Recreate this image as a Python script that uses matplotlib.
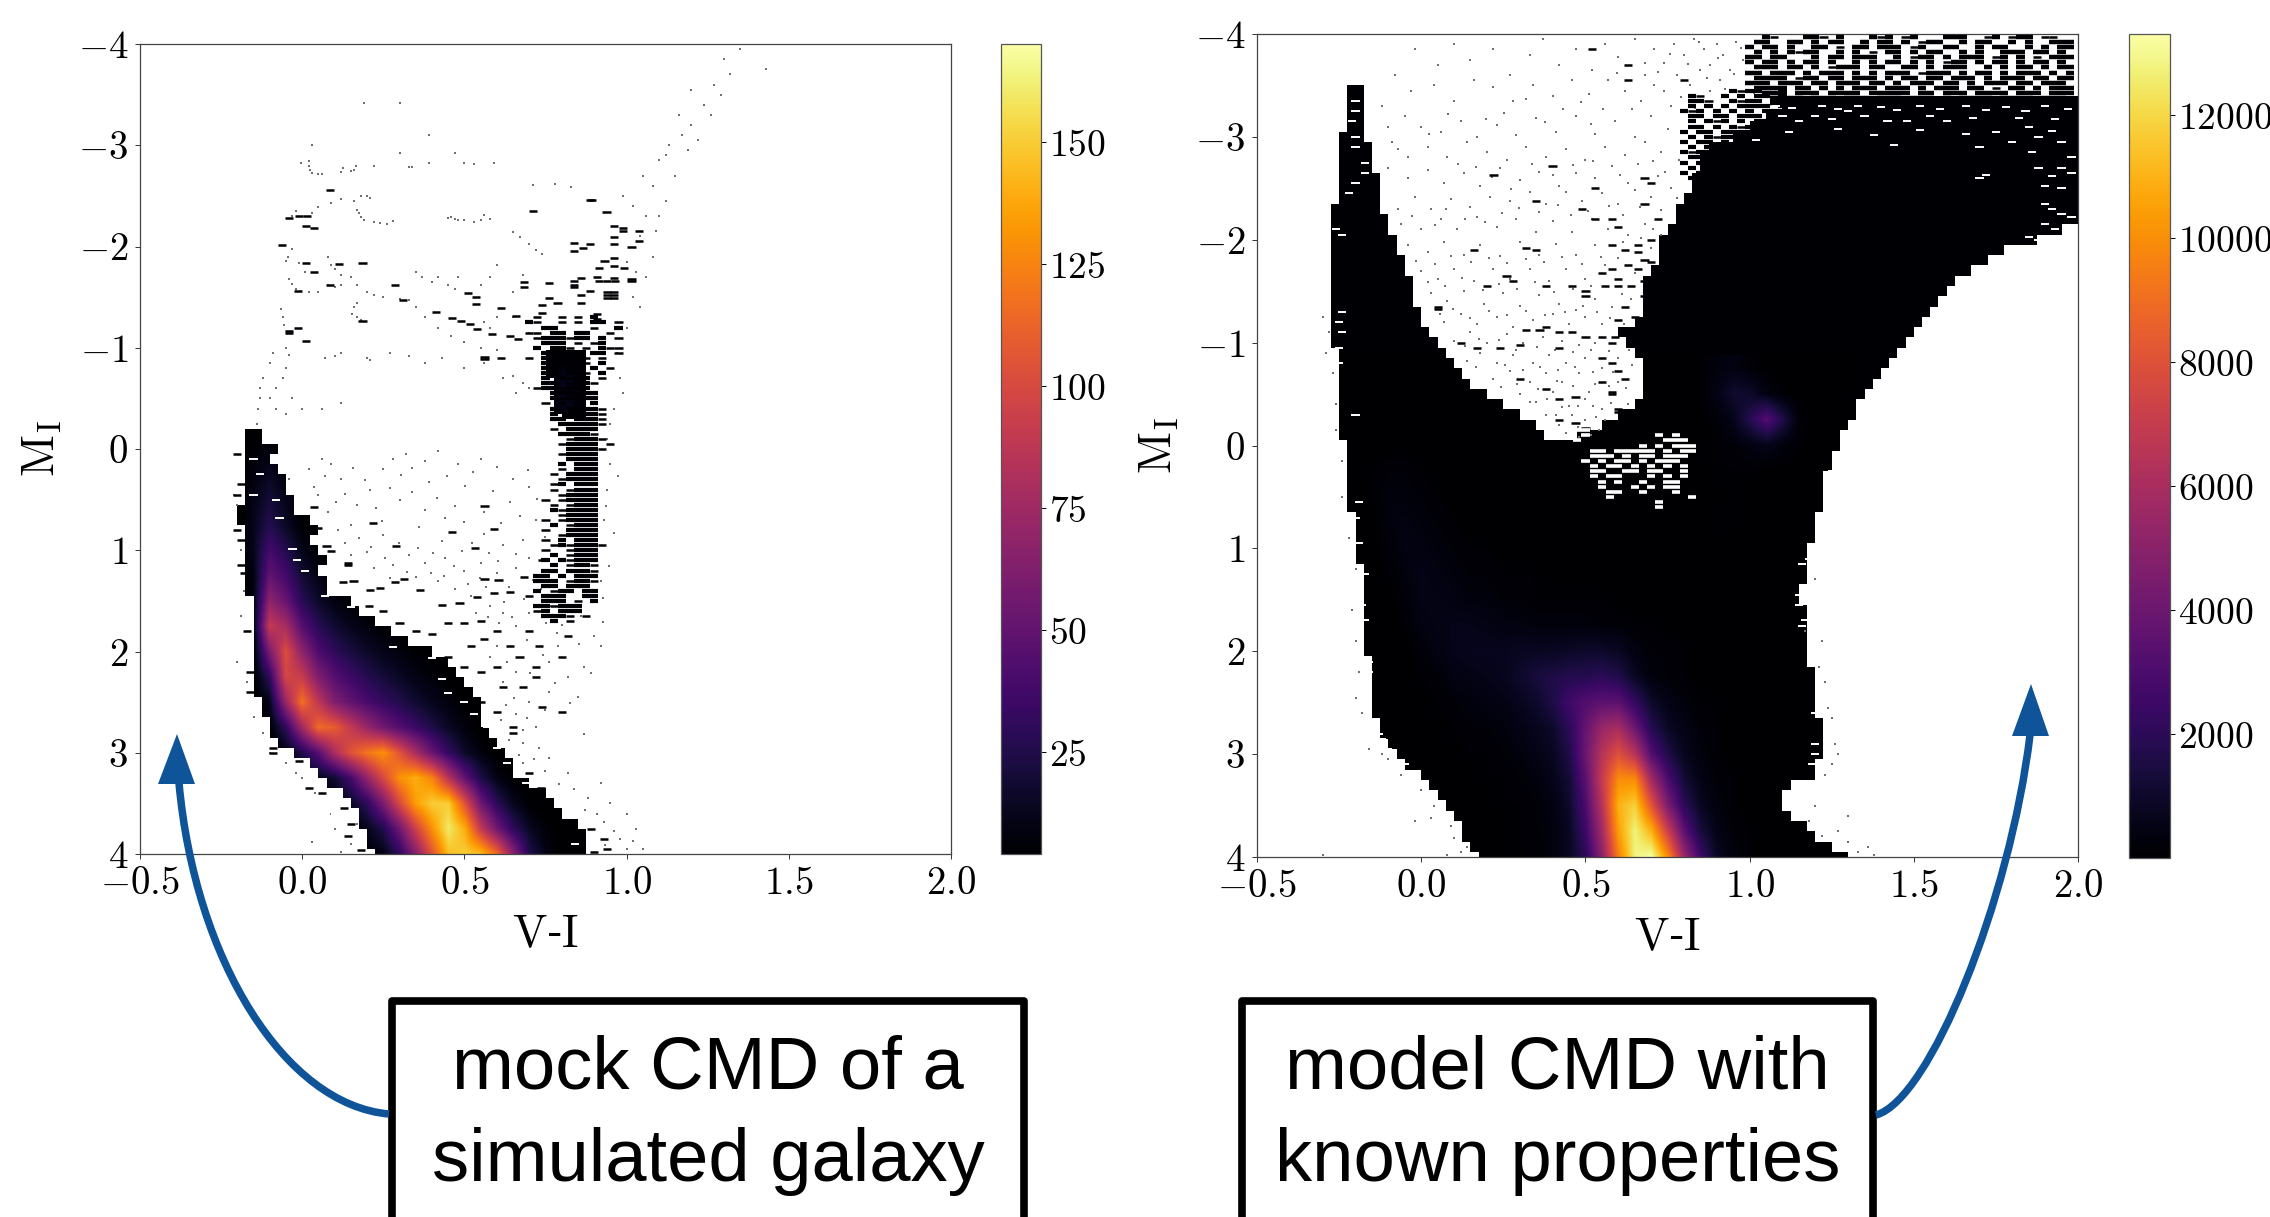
import numpy as np
import matplotlib
matplotlib.use('Agg')
import matplotlib.pyplot as plt
from matplotlib.path import Path
from matplotlib.patches import PathPatch, Polygon, Rectangle

W, H = 2270, 1217
BLACK = '#000004'
BLUE = '#0f5499'

plt.rcParams['mathtext.fontset'] = 'cm'
plt.rcParams['font.family'] = ['Liberation Sans', 'DejaVu Sans']

x_ticks = [-0.5, 0.0, 0.5, 1.0, 1.5, 2.0]
x_labels = ['$-0.5$', '$0.0$', '$0.5$', '$1.0$', '$1.5$', '$2.0$']
y_ticks = [-4, -3, -2, -1, 0, 1, 2, 3, 4]
y_labels = ['$-4$', '$-3$', '$-2$', '$-1$', '$0$', '$1$', '$2$', '$3$', '$4$']
mock_cbar_ticks = [25, 50, 75, 100, 125, 150]
model_cbar_ticks = [2000, 4000, 6000, 8000, 10000, 12000]

# ---- mock CMD ----
mock_band_m = [-0.2, -0.1, 0.0, 0.1, 0.2, 0.3, 0.4, 0.5, 0.6, 0.7, 0.8, 0.9, 1.0, 1.1, 1.2, 1.3, 1.4, 1.5, 1.6, 1.7, 1.8, 1.9, 2.0, 2.1, 2.2, 2.3, 2.4, 2.5, 2.6, 2.7, 2.8, 2.9, 3.0, 3.1, 3.2, 3.3, 3.4, 3.5, 3.6, 3.7, 3.8, 3.9, 4.0]
mock_band_l = [-0.174, -0.174, -0.174, -0.174, -0.174, -0.174, -0.174, -0.174, -0.201, -0.201, -0.174, -0.174, -0.174, -0.174, -0.174, -0.174, -0.174, -0.152, -0.152, -0.152, -0.152, -0.152, -0.149, -0.149, -0.149, -0.149, -0.146, -0.124, -0.124, -0.102, -0.096, -0.069, -0.024, 0.025, 0.048, 0.075, 0.119, 0.153, 0.175, 0.18, 0.197, 0.202, 0.23]
mock_band_r = [-0.118, -0.113, -0.08, -0.102, -0.074, -0.058, -0.046, -0.027, -0.024, 0.025, 0.042, 0.025, 0.048, 0.075, 0.053, 0.075, 0.075, 0.142, 0.169, 0.23, 0.274, 0.33, 0.396, 0.451, 0.473, 0.496, 0.518, 0.551, 0.551, 0.556, 0.573, 0.601, 0.623, 0.65, 0.656, 0.7, 0.739, 0.772, 0.8, 0.838, 0.872, 0.877, 0.883]
mock_core_m = [-0.98, -0.8, -0.6, -0.4, -0.3]
mock_core_l = [0.76, 0.76, 0.775, 0.78, 0.79]
mock_core_r = [0.875, 0.875, 0.875, 0.87, 0.87]

mock_col = [-0.2, -0.15, -0.1, -0.05, 0, 0.05, 0.1, 0.15, 0.2, 0.25, 0.3, 0.35, 0.4, 0.45, 0.5, 0.55, 0.6, 0.65, 0.7, 0.75, 0.8, 0.85, 0.9]
mock_row = [-1, -0.75, -0.5, -0.25, 0, 0.25, 0.5, 0.75, 1, 1.25, 1.5, 1.75, 2, 2.25, 2.5, 2.75, 3, 3.25, 3.5, 3.75, 4]
mock_counts = [
    [0, 0, 0, 0, 0, 0, 0, 0, 0, 0, 0, 0, 0, 0, 0, 0, 0, 0, 0, 0, 0, 0, 0],
    [0, 0, 0, 0, 0, 0, 0, 0, 0, 0, 0, 0, 0, 0, 0, 0, 0, 0, 0, 2, 10, 10, 0],
    [0, 0, 0, 0, 0, 0, 0, 0, 0, 0, 0, 0, 0, 0, 0, 0, 0, 0, 0, 3, 13, 10, 0],
    [0, 2, 3, 0, 0, 0, 0, 0, 0, 0, 0, 0, 0, 0, 0, 0, 0, 0, 0, 0, 3, 3, 0],
    [0, 5, 8, 3, 0, 0, 0, 0, 0, 0, 0, 0, 0, 0, 0, 0, 0, 0, 0, 0, 0, 0, 0],
    [0, 8, 14, 6, 2, 0, 0, 0, 0, 0, 0, 0, 0, 0, 0, 0, 0, 0, 0, 0, 0, 0, 0],
    [0, 10, 20, 12, 3, 0, 0, 0, 0, 0, 0, 0, 0, 0, 0, 0, 0, 0, 0, 0, 0, 0, 0],
    [0, 12, 26, 15, 5, 2, 0, 0, 0, 0, 0, 0, 0, 0, 0, 0, 0, 0, 0, 0, 0, 0, 0],
    [0, 12, 38, 26, 11, 5, 1, 0, 0, 0, 0, 0, 0, 0, 0, 0, 0, 0, 0, 0, 0, 0, 0],
    [0, 9, 50, 38, 19, 10, 4, 1, 0, 0, 0, 0, 0, 0, 0, 0, 0, 0, 0, 0, 0, 0, 0],
    [0, 7, 68, 52, 28, 16, 9, 5, 3, 2, 1, 0, 0, 0, 0, 0, 0, 0, 0, 0, 0, 0, 0],
    [0, 5, 90, 78, 45, 28, 18, 12, 8, 5, 3, 2, 1, 0, 0, 0, 0, 0, 0, 0, 0, 0, 0],
    [0, 3, 60, 102, 68, 42, 30, 22, 16, 11, 8, 5, 3, 2, 1, 0, 0, 0, 0, 0, 0, 0, 0],
    [0, 2, 30, 98, 92, 62, 45, 35, 27, 20, 15, 10, 7, 4, 2, 1, 0, 0, 0, 0, 0, 0, 0],
    [0, 1, 12, 72, 118, 88, 62, 50, 40, 32, 25, 18, 12, 8, 4, 2, 0, 0, 0, 0, 0, 0, 0],
    [0, 0, 4, 30, 75, 115, 110, 90, 72, 56, 44, 34, 24, 15, 8, 3, 1, 0, 0, 0, 0, 0, 0],
    [0, 0, 1, 8, 25, 45, 80, 105, 120, 130, 105, 78, 52, 32, 16, 8, 3, 1, 0, 0, 0, 0, 0],
    [0, 0, 0, 1, 6, 12, 18, 38, 70, 100, 130, 140, 125, 85, 50, 24, 10, 4, 1, 0, 0, 0, 0],
    [0, 0, 0, 0, 1, 3, 6, 14, 30, 60, 100, 135, 150, 150, 105, 55, 28, 12, 5, 2, 0, 0, 0],
    [0, 0, 0, 0, 0, 1, 3, 6, 12, 25, 55, 95, 130, 160, 140, 90, 55, 30, 14, 6, 2, 0, 0],
    [0, 0, 0, 0, 0, 0, 1, 3, 5, 10, 30, 65, 105, 145, 150, 145, 115, 65, 25, 10, 3, 1, 0],
]

# cell art of the red giant branch: cols from V-I 0.70 by 0.025, rows from M_I -1.30 by 0.05
mock_rgb_cells = [
    '.-..-.-.#...', '#-..-.-.##.-', '..##....-..#', '--.##.##..-.', '.-###-##.#.-', '..###.-.-#..',
    '.#.##-.-.#--', '..####..##.-', '-.##.#.-.-..', '..###-.-.#..', '..##.##.#.-.', '..##.##-.#..',
    '..#.#-##.-..', '..##.-##-...', '.-##-###....', '...###-##...', '...#-####...', '..-.#.#.#...',
    '...#.####-..', '...#.#-##-..', '...##.###-..', '....#####-..', '...-.####...', '....####-...',
    '.....-###-..', '....-####.-.', '.....####-..', '....-####...', '.....####...', '....#.###...',
    '....-.###...', '...-.####...', '....-####...', '...-#.###...', '...-.-###...', '....-####...',
    '..-.-####...', '...-.-###...', '...#-####...', '....-####...', '..-.-####...', '...#.-###...',
    '..-..####...', '....-####...', '..-.#.###...', '...-#-###-..', '..-..-###...', '...#.-###...',
    '..#.#-###...', '...#.-##-...', '..##.###-...', '.##.#.###...', '.###.-##-...', '..##.###....',
    '.#.-##.##...', '-.###..##...', '..###.-.#...', '.##-###.....', '.-#.###.....', '..###-.-....',
    '...#.-......',
]

mock_dashes = [
    (0.086, -2.56), (0.888, -2.46), (0.893, -2.46), (0.711, -2.35), (0.938, -2.34), (-0.04, -2.28), (-0.01, -2.3), (0.015, -2.3),
    (0.012, -2.2), (0.036, -2.18), (-0.063, -2.01), (0.012, -1.84), (0.036, -1.75), (0.114, -1.83), (0.186, -1.84), (0.086, -1.62),
    (-0.013, -1.56), (0.285, -1.62), (0.31, -1.47), (0.413, -1.35), (0.462, -1.29), (0.49, -1.26), (0.518, -1.23), (0.538, -1.19),
    (0.584, -1.14), (0.64, -1.12), (0.664, -1.09), (-0.04, -1.17), (-0.04, -1.15), (-0.013, -1.2), (0.011, -1.07), (0.186, -1.26),
    (0.562, -0.91), (0.562, -0.89), (0.612, -0.9), (0.512, -1.54), (0.537, -1.5), (0.537, -1.43), (0.838, -2.03), (0.838, -1.96),
    (0.866, -1.99), (0.888, -2.02), (0.96, -2.2), (0.988, -2.18), (0.988, -2.15), (0.96, -2.09), (1.037, -2.15), (1.037, -2.05),
    (1.015, -2.0), (0.96, -2.02), (0.932, -1.86), (0.96, -1.89), (0.96, -1.81), (0.916, -1.79), (1.015, -1.68), (1.015, -1.66),
    (0.993, -1.79), (0.91, -1.7), (0.96, -1.69), (0.838, -1.66), (0.838, -1.62), (0.838, -1.6), (0.86, -1.69), (0.76, -1.64),
    (0.684, -1.65), (0.684, -1.6), (0.916, -1.66), (0.94, -1.66), (0.965, -1.66), (0.888, -1.56), (0.86, -1.52), (0.86, -1.44),
    (0.96, -1.55), (0.96, -1.52), (0.96, -1.49), (0.94, -1.55), (0.94, -1.52), (0.94, -1.49), (0.76, -1.49), (0.738, -1.42),
    (0.738, -1.34), (0.787, -1.44), (0.612, -1.39), (0.66, -1.31), (0.91, -1.33), (0.91, -1.28),
    # upper right edge of the main sequence and the sub giants
    (0.036, 0.57), (0.03, 0.77), (0.05, 0.78), (0.075, 0.96), (0.09, 1.01), (0.14, 1.13), (0.14, 1.15), (0.219, 0.73),
    (0.29, 0.96), (0.462, 0.82), (0.562, 0.56), (0.59, 0.79), (0.534, 0.98), (0.125, 1.31), (0.158, 1.3), (0.21, 1.39),
    (0.24, 1.37), (0.285, 1.31), (0.313, 1.28), (0.362, 1.39), (0.43, 1.54), (0.485, 1.52), (0.54, 1.46), (0.59, 1.42),
    (0.64, 1.41), (0.562, 1.28), (0.605, 1.29), (0.684, 1.26), (0.205, 1.55), (0.25, 1.6), (0.3, 1.72), (0.35, 1.8),
    (0.4, 1.83), (0.45, 1.72), (0.5, 1.72), (0.55, 1.7), (0.56, 1.88), (0.52, 1.95), (0.45, 2.05), (0.5, 2.15), (0.55, 2.2),
    (0.6, 2.15), (0.62, 2.35), (0.55, 2.5), (0.6, 2.6), (0.65, 2.75), (0.65, 2.8), (0.7, 3.2), (0.735, 3.35), (0.74, 1.1),
    (0.7, 1.8), (0.73, 1.95), (0.6, 1.8), (0.64, 1.95), (0.67, 2.05), (0.72, 2.15), (0.72, 2.25), (0.68, 2.35), (0.74, 2.55),
    (0.8, 2.6), (0.89, 3.75), (0.93, 3.85), (0.94, 3.95), (0.85, 3.88), (0.9, 3.98), (0.82, 1.85), (0.8, 2.05),
    # left edge
    (-0.2, 0.05), (-0.19, 0.35), (-0.2, 0.45), (-0.2, 0.8), (-0.19, 0.9), (-0.19, 1.15), (-0.18, 1.22), (-0.17, 1.8), (-0.16, 2.2),
    (-0.16, 2.4), (-0.09, 3.0), (-0.09, 2.95), (-0.01, 3.08), (0.02, 3.35), (0.06, 3.4), (0.13, 3.55), (0.15, 3.7), (0.14, 3.82), (0.18, 3.96),
]
mock_gaps = [
    (-0.15, 0.1), (-0.13, 0.25), (-0.15, 0.45), (-0.08, 0.5), (-0.07, 0.68), (0.0, 0.62), (-0.03, 0.99), (-0.015, 1.1), (0.01, 1.2),
    (0.07, 1.45), (0.15, 1.56), (0.28, 1.96), (0.4, 2.06), (0.43, 2.27), (0.45, 2.41), (0.5, 2.5), (0.53, 2.62), (0.57, 2.75), (0.6, 2.95),
    (0.63, 3.1), (0.69, 3.3), (0.01, 3.3), (0.07, 3.45), (0.1, 3.6), (0.21, 3.98), (0.84, 3.9),
]
mock_stars = [
    (0.02, -2.84), (0.02, -2.8), (0.025, -2.76), (0.03, -2.73), (0.05, -2.72), (0.06, -2.72), (-0.005, -2.82), (0.125, -2.78), (0.12, -2.74),
    (0.165, -2.8), (0.16, -2.76), (0.15, -2.75), (0.22, -2.8), (0.3, -2.92), (0.33, -2.79), (0.34, -2.79), (0.39, -2.82), (0.5, -2.82),
    (0.53, -2.81), (0.59, -2.82), (0.71, -2.61), (0.78, -2.62), (0.83, -2.59), (0.03, -3.0), (0.19, -3.42), (0.3, -3.42), (0.39, -3.1),
    (0.47, -2.92), (0.18, -2.5), (0.2, -2.5), (0.21, -2.48), (0.16, -2.45), (0.12, -2.47), (0.09, -2.43), (0.05, -2.39), (0.03, -2.33),
    (-0.02, -2.35), (-0.03, -2.3), (0.17, -2.36), (0.175, -2.33), (0.18, -2.29), (0.19, -2.26), (0.22, -2.24), (0.24, -2.23), (0.26, -2.22),
    (0.28, -2.25), (0.45, -2.28), (0.46, -2.29), (0.47, -2.27), (0.48, -2.26), (0.5, -2.26), (0.53, -2.24), (0.55, -2.26), (0.56, -2.31),
    (0.58, -2.27), (0.65, -2.14), (0.67, -2.09), (0.7, -2.02), (0.72, -1.97), (0.74, -1.93), (-0.05, -1.86), (-0.045, -1.9), (-0.03, -1.98),
    (-0.01, -1.84), (0.01, -1.75), (-0.04, -1.68), (-0.03, -1.63), (-0.02, -1.58), (0.02, -1.55), (0.05, -1.55), (0.08, -1.62), (0.1, -1.6),
    (0.12, -1.62), (0.08, -1.9), (0.09, -1.82), (0.1, -1.78), (0.12, -1.72), (0.15, -1.7), (0.17, -1.62), (0.2, -1.55), (0.22, -1.52),
    (0.25, -1.5), (0.3, -1.48), (0.35, -1.75), (0.37, -1.7), (0.4, -1.65), (0.42, -1.7), (0.45, -1.62), (0.47, -1.58), (0.48, -1.7),
    (0.55, -1.62), (0.58, -1.7), (0.6, -1.82), (0.65, -1.55), (0.68, -1.72), (0.33, -1.47), (0.35, -1.4), (0.38, -1.3), (0.42, -1.2),
    (0.46, -1.12), (0.5, -1.06), (0.55, -1.0), (0.6, -0.98), (0.56, -1.25), (0.58, -1.2), (0.6, -1.3), (0.65, -1.3), (0.7, -1.15),
    (-0.065, -1.38), (-0.06, -1.3), (-0.055, -1.22), (0.16, -1.4), (0.17, -1.44), (0.155, -1.33), (0.17, -1.3), (0.18, -1.27), (-0.14, -0.25),
    (-0.135, -0.4), (-0.13, -0.5), (-0.13, -0.6), (-0.12, -0.7), (-0.1, -0.85), (-0.09, -0.95), (-0.05, -1.0), (-0.04, -0.93), (-0.05, -0.8),
    (-0.06, -0.7), (-0.08, -0.6), (-0.1, -0.5), (-0.08, -0.4), (-0.05, -0.35), (-0.03, -0.5), (0.0, -0.4), (0.06, -0.4), (0.12, -0.45),
    (0.07, -0.9), (0.1, -0.92), (0.12, -0.95), (0.2, -0.9), (0.21, -0.88), (0.27, -0.95), (0.33, -0.92), (0.38, -0.85), (0.43, -0.9),
    (0.5, -0.8), (0.56, -0.85), (0.62, -0.7), (0.65, -0.72), (0.68, -0.65), (0.66, -0.55), (0.7, -0.6), (0.98, -0.7), (0.99, -0.55), (0.96, -0.4),
    (0.95, -0.25), (0.94, -0.1), (0.97, -0.95), (1.0, -1.2), (1.02, -1.5), (1.04, -1.4), (1.06, -1.7), (1.08, -1.9), (0.99, -2.5), (1.02, -2.4),
    (1.05, -2.7), (1.08, -2.6), (1.1, -2.3), (1.12, -2.9), (1.15, -2.7), (1.17, -3.1), (1.19, -2.95), (1.2, -3.2), (1.22, -3.05), (1.24, -3.4),
    (1.26, -3.3), (1.27, -3.6), (1.29, -3.5), (1.3, -3.85), (1.32, -3.7), (1.35, -3.95), (1.1, -2.85), (1.13, -3.0), (1.06, -2.3), (1.09, -2.15),
    (1.2, -3.55), (1.04, -2.1), (1.0, -1.85), (1.03, -1.75), (1.12, -2.45), (1.16, -3.3), (1.43, -3.75),
    (-0.04, 0.3), (0.02, 0.2), (0.06, 0.1), (0.09, 0.15), (0.12, 0.3), (0.05, 0.45), (0.08, 0.62), (0.11, 0.8), (0.15, 0.75), (0.17, 0.55),
    (0.21, 0.4), (0.25, 0.2), (0.28, 0.1), (0.32, 0.05), (0.38, 0.12), (0.42, 0.02), (0.48, 0.15), (0.55, 0.1), (0.6, 0.18), (0.65, 0.3),
    (0.7, 0.38), (0.3, 0.5), (0.34, 0.42), (0.38, 0.6), (0.44, 0.68), (0.5, 0.72), (0.56, 0.84), (0.62, 0.95), (0.68, 0.9), (0.72, 0.7),
    (0.25, 0.85), (0.2, 1.02), (0.15, 1.05), (0.28, 1.15), (0.33, 1.05), (0.38, 1.13), (0.44, 1.08), (0.5, 1.2), (0.55, 1.13), (0.6, 1.22),
    (0.66, 1.18), (0.7, 1.08), (0.22, 1.18), (0.27, 1.27), (0.42, 1.3), (0.47, 1.38), (0.52, 1.45), (0.58, 1.55), (0.62, 1.62), (0.66, 1.75),
    (0.7, 1.62), (0.75, 1.72), (0.79, 1.95), (0.86, 1.65), (0.9, 1.5), (0.92, 1.3), (0.91, 1.0), (0.93, 0.7), (0.94, 0.4), (0.95, 0.15),
    (0.9, 1.85), (0.92, 1.95), (0.87, 2.15), (0.82, 2.25), (0.76, 2.4), (0.7, 2.5), (0.66, 2.62), (0.72, 2.75), (0.68, 2.9), (0.73, 2.95),
    (0.76, 3.05), (0.82, 3.2), (0.92, 3.3), (0.95, 3.5), (1.0, 3.6), (1.03, 3.75), (1.05, 3.95), (0.98, 3.85), (1.0, 3.95), (0.88, 3.45),
    (0.91, 3.6), (0.68, 3.1), (0.62, 2.3), (0.66, 2.2), (0.58, 2.05), (0.63, 2.1), (0.6, 1.95), (0.76, 2.1), (0.85, 2.45), (-0.2, 0.55),
    (-0.21, 0.45), (-0.19, 1.0), (-0.18, 1.4), (-0.19, 1.65), (-0.2, 2.1), (-0.17, 2.3), (-0.15, 2.65), (-0.12, 2.8), (-0.1, 3.0), (-0.05, 3.1),
    (-0.02, 3.2), (0.0, 3.25), (0.04, 3.4), (0.09, 3.6), (0.1, 3.75), (0.15, 3.9), (0.03, 3.88), (0.12, 3.98), (0.17, 3.7),
    # denser field between the branches
    (0.035, 0.38), (0.071, 0.27), (0.104, 0.52), (0.133, 0.44), (0.158, 0.19), (0.193, 0.31), (0.226, 0.58), (0.247, 0.71), (0.271, 0.39), (0.305, 0.26),
    (0.338, 0.19), (0.361, 0.77), (0.392, 0.33), (0.417, 0.48), (0.446, 0.27), (0.471, 0.56), (0.503, 0.37), (0.528, 0.23), (0.559, 0.62), (0.587, 0.41),
    (0.613, 0.73), (0.641, 0.52), (0.672, 0.66), (0.697, 0.21), (0.723, 0.49), (0.748, 0.87), (0.131, 0.93), (0.176, 0.88), (0.212, 0.97), (0.256, 1.08),
    (0.297, 0.93), (0.322, 1.21), (0.357, 0.98), (0.402, 1.03), (0.431, 0.91), (0.467, 1.16), (0.494, 1.01), (0.523, 0.93), (0.548, 1.27), (0.577, 1.03),
    (0.603, 1.11), (0.636, 1.36), (0.658, 1.04), (0.684, 1.48), (0.712, 1.29), (0.737, 1.38), (0.764, 1.55), (0.785, 1.82), (0.437, 1.25), (0.396, 1.22),
    (0.352, 1.26), (0.511, 1.33), (0.568, 1.36), (0.621, 1.51), (0.646, 1.66), (0.607, 1.72), (0.573, 1.66), (0.536, 1.62), (0.693, 1.89), (0.741, 2.03),
    (0.778, 2.31), (0.703, 2.21), (0.654, 2.46), (0.628, 2.53), (0.692, 2.66), (0.748, 2.58), (0.612, 2.68), (0.638, 2.87), (0.681, 2.78), (0.716, 3.06),
    (0.668, 3.02), (0.748, 3.18), (0.791, 3.31), (0.837, 3.36), (0.871, 3.57), (0.931, 3.68), (0.961, 3.77), (0.933, 3.91), (1.02, 3.87), (0.868, 2.81),
    (0.826, 2.51), (0.891, 2.21), (0.928, 1.71), (0.946, 1.16), (0.961, 0.83), (0.937, 0.56), (0.972, 0.27), (0.927, 1.47), (0.854, 1.93), (0.802, 1.74),
]

# ---- model CMD ----
blade_m = [-3.5, -3.4, -3.3, -3.2, -3.1, -3.0, -2.9, -2.8, -2.7, -2.6, -2.5, -2.4, -2.3, -2.2, -2.1, -2.0, -1.9, -1.8, -1.7, -1.6, -1.5, -1.4, -1.3, -1.2, -1.1, -1.0, -0.9, -0.8, -0.7, -0.6, -0.5, -0.4, -0.3, -0.2, -0.1, 0.0]
blade_l = [-0.215, -0.215, -0.22, -0.225, -0.235, -0.24, -0.24, -0.245, -0.245, -0.245, -0.25, -0.25, -0.27, -0.275, -0.275, -0.275, -0.275, -0.275, -0.275, -0.275, -0.275, -0.275, -0.275, -0.275, -0.27, -0.265, -0.255, -0.25, -0.25, -0.25, -0.25, -0.25, -0.25, -0.25, -0.24, -0.232]
blade_r = [-0.186, -0.185, -0.18, -0.18, -0.17, -0.165, -0.155, -0.145, -0.14, -0.135, -0.13, -0.125, -0.12, -0.11, -0.10, -0.085, -0.07, -0.06, -0.045, -0.035, -0.025, -0.015, -0.01, 0.01, 0.025, 0.04, 0.065, 0.09, 0.115, 0.16, 0.2, 0.25, 0.3, 0.34, 0.385, 0.426]
mass_m = [-3.4, -3.3, -3.2, -3.1, -3.0, -2.9, -2.8, -2.7, -2.6, -2.5, -2.4, -2.3, -2.2, -2.1, -2.0, -1.9, -1.8, -1.7, -1.6, -1.5, -1.4, -1.3, -1.2, -1.1, -1.0, -0.9, -0.8, -0.7, -0.6, -0.5, -0.4, -0.3, -0.2, -0.1, 0.0]
mass_l = [1.126, 1.1, 1.06, 1.0, 0.95, 0.88, 0.86, 0.84, 0.83, 0.825, 0.8, 0.785, 0.77, 0.75, 0.735, 0.725, 0.715, 0.7, 0.685, 0.675, 0.675, 0.67, 0.65, 0.6, 0.62, 0.65, 0.665, 0.675, 0.675, 0.675, 0.65, 0.6, 0.54, 0.48, 0.42]
mass_r = [2.0, 2.0, 2.0, 2.0, 2.0, 2.0, 2.0, 2.0, 2.0, 2.0, 2.0, 2.0, 2.0, 1.956, 1.87, 1.776, 1.725, 1.674, 1.635, 1.597, 1.575, 1.554, 1.525, 1.494, 1.47, 1.443, 1.415, 1.391, 1.365, 1.34, 1.325, 1.315, 1.295, 1.277, 1.272]
body_m = [0.0, 0.1, 0.2, 0.3, 0.4, 0.5, 0.6, 0.7, 0.8, 0.9, 1.0, 1.1, 1.2, 1.3, 1.4, 1.5, 1.6, 1.7, 1.8, 1.9, 2.0, 2.1, 2.2, 2.3, 2.4, 2.5, 2.6, 2.7, 2.8, 2.9, 3.0, 3.1, 3.2, 3.3, 3.4, 3.5, 3.6, 3.7, 3.8, 3.9, 4.0]
body_l = [-0.232, -0.23, -0.227, -0.225, -0.224, -0.22, -0.215, -0.21, -0.198, -0.198, -0.198, -0.19, -0.181, -0.178, -0.176, -0.176, -0.176, -0.175, -0.173, -0.173, -0.173, -0.16, -0.152, -0.152, -0.152, -0.15, -0.147, -0.135, -0.125, -0.1, -0.074, -0.04, -0.01, 0.025, 0.058, 0.085, 0.109, 0.12, 0.135, 0.15, 0.169]
body_r = [1.272, 1.26, 1.25, 1.235, 1.226, 1.222, 1.22, 1.205, 1.198, 1.19, 1.186, 1.18, 1.174, 1.165, 1.161, 1.162, 1.164, 1.17, 1.174, 1.174, 1.174, 1.185, 1.198, 1.2, 1.203, 1.208, 1.212, 1.216, 1.221, 1.221, 1.221, 1.21, 1.195, 1.13, 1.10, 1.105, 1.135, 1.17, 1.203, 1.25, 1.297]

model_col = [-0.25, -0.2, -0.15, -0.1, -0.05, 0, 0.05, 0.1, 0.15, 0.2, 0.25, 0.3, 0.35, 0.4, 0.45, 0.5, 0.55, 0.6, 0.65, 0.7, 0.75, 0.8, 0.85, 0.9, 0.95, 1.0, 1.05, 1.1, 1.15, 1.2, 1.25, 1.3]
model_row = [-0.75, -0.5, -0.25, 0, 0.25, 0.5, 0.75, 1, 1.25, 1.5, 1.75, 2, 2.25, 2.5, 2.75, 3, 3.25, 3.5, 3.75, 4]
# counts in hundreds
model_counts = [
    [0, 0, 0, 0, 0, 0, 0, 0, 0, 0, 0, 0, 0, 0, 0, 0, 0, 0, 0, 0, 0, 0, 1, 3, 4, 2, 0, 0, 0, 0, 0, 0],
    [0, 0, 0, 0, 0, 0, 0, 0, 0, 0, 0, 0, 0, 0, 0, 0, 0, 0, 0, 0, 0, 0, 1, 5, 11, 10, 4, 1, 0, 0, 0, 0],
    [0, 0, 0, 0, 0, 0, 0, 0, 0, 0, 0, 0, 0, 0, 0, 0, 0, 0, 0, 0, 0, 0, 0, 2, 6, 18, 32, 16, 2, 0, 0, 0],
    [0, 0, 0, 0, 0, 0, 0, 0, 0, 0, 0, 0, 0, 0, 0, 0, 0, 0, 0, 0, 0, 0, 0, 1, 2, 4, 6, 3, 1, 0, 0, 0],
    [0, 0, 1, 2, 2, 1, 0, 0, 0, 0, 0, 0, 0, 0, 0, 0, 0, 0, 0, 0, 0, 0, 0, 1, 1, 1, 0, 0, 0, 0, 0, 0],
    [0, 0, 1, 3, 3, 2, 1, 0, 0, 0, 0, 0, 0, 0, 0, 0, 0, 0, 0, 0, 0, 0, 0, 0, 1, 0, 0, 0, 0, 0, 0, 0],
    [0, 0, 0, 3, 4, 3, 2, 1, 0, 0, 0, 0, 0, 0, 0, 0, 0, 0, 0, 0, 0, 0, 0, 1, 1, 0, 0, 0, 0, 0, 0, 0],
    [0, 0, 0, 2, 4, 4, 3, 2, 1, 1, 0, 0, 0, 0, 0, 0, 0, 0, 0, 0, 0, 0, 0, 0, 0, 0, 0, 0, 0, 0, 0, 0],
    [0, 0, 0, 1, 3, 5, 4, 3, 2, 2, 1, 1, 1, 0, 0, 0, 0, 0, 0, 0, 0, 0, 0, 0, 0, 0, 0, 0, 0, 0, 0, 0],
    [0, 0, 0, 0, 2, 5, 5, 4, 3, 3, 2, 2, 1, 1, 1, 1, 1, 0, 0, 0, 0, 0, 0, 0, 0, 0, 0, 0, 0, 0, 0, 0],
    [0, 0, 0, 0, 1, 4, 5, 6, 6, 5, 4, 4, 3, 3, 3, 3, 2, 2, 1, 1, 0, 0, 0, 0, 0, 0, 0, 0, 0, 0, 0, 0],
    [0, 0, 0, 0, 0, 2, 4, 6, 7, 7, 7, 8, 8, 8, 9, 10, 10, 8, 4, 2, 2, 1, 0, 0, 0, 0, 0, 0, 0, 0, 0, 0],
    [0, 0, 0, 0, 0, 1, 2, 4, 5, 6, 7, 10, 14, 16, 18, 18, 20, 17, 8, 3, 2, 1, 0, 0, 0, 0, 0, 0, 0, 0, 0, 0],
    [0, 0, 0, 0, 0, 0, 1, 2, 3, 4, 5, 7, 10, 16, 26, 32, 35, 35, 22, 10, 5, 3, 1, 1, 0, 0, 0, 0, 0, 0, 0, 0],
    [0, 0, 0, 0, 0, 0, 0, 1, 2, 2, 3, 5, 7, 10, 20, 38, 55, 60, 40, 18, 9, 5, 2, 1, 0, 0, 0, 0, 0, 0, 0, 0],
    [0, 0, 0, 0, 0, 0, 0, 0, 1, 1, 2, 3, 5, 8, 16, 40, 65, 80, 65, 32, 16, 7, 3, 1, 0, 0, 0, 0, 0, 0, 0, 0],
    [0, 0, 0, 0, 0, 0, 0, 0, 0, 1, 1, 2, 3, 6, 12, 35, 70, 100, 100, 58, 30, 12, 5, 2, 1, 0, 0, 0, 0, 0, 0, 0],
    [0, 0, 0, 0, 0, 0, 0, 0, 0, 0, 1, 1, 2, 4, 10, 30, 65, 110, 118, 82, 45, 20, 8, 3, 1, 0, 0, 0, 0, 0, 0, 0],
    [0, 0, 0, 0, 0, 0, 0, 0, 0, 0, 0, 1, 2, 3, 8, 25, 58, 105, 128, 110, 72, 35, 14, 5, 2, 1, 0, 0, 0, 0, 0, 0],
    [0, 0, 0, 0, 0, 0, 0, 0, 0, 0, 0, 1, 1, 3, 8, 20, 50, 95, 128, 133, 100, 55, 25, 8, 3, 1, 0, 0, 0, 0, 0, 0],
]

# cols from V-I 1.00 by 0.025, rows from M_I -3.975 by 0.05
model_roof_cells = [
    '..#-...##-.#...#-#.-#...###..-#.-##.--..', '.##..##.#.##..#.##.#.-##..#.##..#.#..###', '#.##.#..##.-.##.###.-#..##..#.##..#.#.##',
    '.#.#.#-##..#.#.-.##.#.##..#.#..###.##.#.', '##.##...#.##.###..#.-##.#.###.-#.#.-.###', '#.##.#.##.#..#.#.##.#.#.-##.#.##.#.##.#.',
    '.###.##.#.-###.##..##.#.###..#.#.##.#.##', '##.###.#.###.#.#.###.-###.#.##.#.###.#.#', '.####.-##.##.###.#.##.##.###.#.###.##.##',
    '###.###.##.###.##.#.###.##.#.###.##.###.', '.####.##.#.#.###.###.#.###.##.-.##.#.###', '..###.###.####.#####.##.###.####.###.###',
    '...####.###.###.###.###.#.####.####.###.', '...###.####.#.#.#####.###.##.#####.##.##',
]
# cols from V-I 0.80 by 0.025, rows from M_I -3.45 by 0.05
model_side_cells = [
    '......#-##..#.', '.#-..#.#.##.#.', '.##-..#-##.###', '.#.#.#.####.##', '#-#.#.#.#.####', '.##.##.###.###',
    '.#.#-#.#.#####', '.##.#.#-######', '#.##.#########', '.#.#-#########', '#.##.#.#######', '.#.#-#########',
    '#-##.#########', '.###-#########', '#.#.##########', '.#.###########', '#.############', '.#############',
]
model_dashes = [
    (0.52, -3.85), (0.63, -3.7), (0.63, -3.55), (0.8, -3.55), (0.4, -2.72), (0.22, -2.63), (0.53, -2.5), (0.35, -2.38), (0.49, -2.3),
    (0.53, -2.2), (0.68, -2.6), (0.7, -2.55), (0.68, -2.35), (0.58, -2.2), (0.6, -2.12), (0.72, -2.2), (0.7, -2.0), (0.66, -1.95),
    (0.32, -1.92), (0.35, -1.9), (0.16, -1.9), (0.58, -1.95), (0.62, -1.9), (0.66, -1.88), (0.68, -1.8), (0.7, -1.78), (0.72, -1.7),
    (0.63, -1.75), (0.66, -1.72), (0.58, -1.72), (0.55, -1.68), (0.6, -1.62), (0.56, -1.55), (0.6, -1.55), (0.64, -1.55), (0.68, -1.6),
    (0.72, -1.5), (0.68, -1.45), (0.26, -1.65), (0.28, -1.6), (0.2, -1.55), (0.38, -1.55), (0.46, -1.55), (0.5, -1.5), (0.5, -1.45),
    (0.05, -1.35), (0.05, -1.33), (0.62, -1.35), (0.6, -1.22), (0.65, -1.25), (0.38, -1.15), (0.36, -1.12), (0.32, -1.12), (0.42, -1.1),
    (0.46, -1.1), (0.55, -1.05), (0.59, -1.05), (0.62, -1.1), (0.58, -1.0), (0.12, -1.0), (0.17, -0.95), (0.24, -0.95), (0.3, -0.98),
    (0.42, -0.95), (0.5, -1.05), (0.55, -0.85), (0.58, -0.8), (0.6, -0.72), (0.62, -0.65), (0.55, -0.62), (0.3, -0.65), (0.38, -0.55),
    (0.47, -0.47), (0.58, -0.5), (0.58, -0.52), (0.42, -0.45), (0.42, -0.25), (0.47, -0.22), (0.6, -0.35), (0.6, -0.33), (0.5, -0.17),
]
model_gaps = [
    (1.1, -3.2), (1.15, -3.15), (1.3, -3.25), (1.35, -3.2), (1.48, -3.15), (1.55, -3.2), (1.6, -3.15), (1.75, -3.05), (1.85, -3.1),
    (1.8, -2.95), (1.86, -2.85), (1.88, -3.0), (1.95, -2.95), (1.98, -2.8), (1.7, -2.6), (1.72, -2.63), (1.92, -2.62), (1.9, -2.52), (1.95, -2.5),
    (1.88, -2.7), (1.95, -2.7), (1.98, -2.65), (1.9, -2.35), (1.92, -2.3), (1.95, -2.25), (1.98, -2.22), (1.9, -2.15), (1.93, -2.1),
    (1.85, -2.03), (1.88, -2.0), (1.82, -1.85), (1.75, -1.7), (1.65, -1.5), (1.6, -1.42), (1.25, 0.25), (1.22, 1.0), (1.18, 1.1), (1.16, 1.15),
    (1.15, 1.45), (1.15, 1.55), (1.17, 1.7), (1.16, 1.75), (-0.19, 0.55), (-0.2, 0.7), (-0.19, 0.95), (-0.17, 1.25), (-0.18, 1.55), (-0.17, 1.7),
    (-0.16, 2.1), (-0.16, 2.2), (-0.14, 2.7), (-0.13, 2.8), (-0.12, 2.85), (-0.1, 2.95), (-0.05, 3.1), (1.2, 2.6), (1.2, 2.9), (1.2, 3.0), (1.19, 3.1),
    (-0.24, -1.3), (-0.25, -1.2), (-0.24, -1.1), (-0.25, -0.95), (-0.25, -0.8), (-0.2, -3.0), (-0.2, -2.9), (-0.17, -2.75), (-0.17, -2.65),
    (-0.2, -2.55), (-0.22, -2.45), (-0.26, -2.1), (-0.24, -2.05), (-0.2, -0.3), (-0.2, -3.35), (-0.2, -3.25), (-0.21, -3.15),
    # speckle under the roof
    (1.08, -3.3), (1.13, -3.28), (1.22, -3.3), (1.27, -3.27), (1.33, -3.3), (1.4, -3.29), (1.45, -3.26), (1.52, -3.3), (1.58, -3.27), (1.66, -3.3),
    (1.72, -3.26), (1.78, -3.29), (1.84, -3.25), (1.9, -3.3), (1.97, -3.27), (1.2, -3.2), (1.25, -3.17), (1.42, -3.15), (1.68, -3.18), (1.82, -3.18),
    (1.93, -3.17), (1.12, -3.05), (1.27, -3.08), (1.38, -3.02), (1.52, -3.07), (1.66, -3.03), (1.92, -3.06), (1.02, -2.97), (1.44, -2.92), (1.7, -2.9),
]
# white cells around the shelf under the V: cols from V-I 0.45 by 0.025, rows from M_I -0.15 by 0.05
model_shelf_cells = [
    '.##.............', '..#........#.#..', '.#..........###.', '.........#.#.###', '...##.#####.#.##', '...###.#.##.###.',
    '..#.#.##.#.###..', '...#.##.#.#.#.#.', '...##..##.##..#.', '...#.##...#.#.#.', '....#.#..#..##..', '....#...#.#.##..',
    '.....##..#...#..', '.....#.........#', '...........#....', '...........#....', '................',
]
model_stars = [
    (-0.02, -3.85), (0.05, -3.7), (0.1, -3.9), (0.15, -3.75), (0.22, -3.85), (0.27, -3.6), (0.33, -3.8), (0.37, -3.95), (0.42, -3.7), (0.47, -3.85),
    (0.52, -3.65), (0.56, -3.9), (0.6, -3.78), (0.65, -3.95), (0.68, -3.6), (0.71, -3.85), (0.74, -3.72), (0.77, -3.9), (0.8, -3.8), (0.83, -3.95),
    (0.86, -3.85), (0.88, -3.7), (0.9, -3.9), (0.92, -3.8), (0.94, -3.65), (0.96, -3.92), (0.98, -3.75), (0.74, -3.45), (0.78, -3.6), (0.82, -3.5),
    (0.85, -3.65), (0.88, -3.45), (0.91, -3.55), (0.76, -3.3), (0.71, -3.5), (0.67, -3.35), (0.62, -3.45), (0.57, -3.55), (0.51, -3.42), (0.46, -3.55),
    (0.4, -3.4), (0.34, -3.5), (0.28, -3.35), (0.22, -3.48), (0.16, -3.55), (0.1, -3.35), (0.04, -3.5), (-0.03, -3.45), (-0.08, -3.6), (-0.12, -3.3),
    (-0.1, -3.1), (-0.05, -3.2), (0.0, -3.1), (0.06, -3.05), (0.12, -3.15), (0.17, -3.0), (0.23, -3.12), (0.29, -3.02), (0.35, -3.18), (0.41, -3.05),
    (0.47, -3.2), (0.53, -3.03), (0.59, -3.15), (0.65, -3.0), (0.7, -3.2), (0.75, -3.08), (0.79, -2.95), (0.73, -2.85), (0.68, -2.95), (0.62, -2.82),
    (0.56, -2.9), (0.5, -2.78), (0.44, -2.88), (0.38, -2.8), (0.32, -2.9), (0.26, -2.78), (0.2, -2.85), (0.14, -2.95), (0.08, -2.8), (0.02, -2.9),
    (-0.04, -2.8), (-0.09, -2.95), (-0.1, -2.7), (-0.04, -2.6), (0.02, -2.68), (0.07, -2.55), (0.13, -2.65), (0.18, -2.52), (0.24, -2.7), (0.3, -2.58),
    (0.36, -2.66), (0.42, -2.52), (0.47, -2.65), (0.53, -2.6), (0.58, -2.72), (0.63, -2.55), (0.72, -2.62), (0.76, -2.5), (0.7, -2.42), (0.65, -2.48),
    (0.6, -2.35), (0.55, -2.45), (0.49, -2.38), (0.44, -2.46), (0.38, -2.35), (0.33, -2.46), (0.27, -2.38), (0.21, -2.42), (0.15, -2.32), (0.09, -2.4),
    (0.03, -2.3), (-0.02, -2.42), (-0.07, -2.3), (-0.06, -2.15), (0.0, -2.1), (0.06, -2.2), (0.11, -2.1), (0.17, -2.22), (0.23, -2.12), (0.29, -2.2),
    (0.35, -2.08), (0.4, -2.18), (0.46, -2.08), (0.52, -2.2), (0.57, -2.1), (0.63, -2.05), (0.68, -2.15), (0.73, -2.05), (-0.04, -1.95), (0.02, -1.88),
    (0.07, -1.98), (0.13, -1.85), (0.18, -1.95), (0.24, -1.84), (0.3, -1.98), (0.36, -1.85), (0.41, -1.96), (0.47, -1.85), (0.53, -1.95), (0.6, -1.82),
    (0.7, -1.92), (0.0, -1.7), (0.05, -1.62), (0.1, -1.72), (0.16, -1.6), (0.22, -1.72), (0.27, -1.62), (0.33, -1.72), (0.39, -1.6), (0.44, -1.72),
    (0.5, -1.62), (0.56, -1.75), (0.65, -1.68), (0.03, -1.48), (0.08, -1.4), (0.13, -1.5), (0.19, -1.38), (0.25, -1.48), (0.3, -1.36), (0.36, -1.46),
    (0.42, -1.38), (0.47, -1.32), (0.53, -1.42), (0.58, -1.35), (0.64, -1.42), (0.07, -1.2), (0.12, -1.28), (0.17, -1.18), (0.23, -1.25), (0.28, -1.15),
    (0.34, -1.22), (0.4, -1.28), (0.45, -1.18), (0.5, -1.25), (0.55, -1.18), (0.1, -1.02), (0.15, -1.1), (0.2, -1.0), (0.26, -1.08), (0.31, -1.0),
    (0.37, -1.05), (0.43, -1.02), (0.48, -0.98), (0.53, -1.0), (0.14, -0.82), (0.18, -0.9), (0.23, -0.8), (0.28, -0.88), (0.34, -0.8), (0.39, -0.88),
    (0.44, -0.8), (0.5, -0.85), (0.55, -0.75), (0.6, -0.85), (0.22, -0.65), (0.27, -0.72), (0.33, -0.62), (0.38, -0.7), (0.43, -0.62), (0.48, -0.7),
    (0.53, -0.6), (0.6, -0.62), (0.3, -0.5), (0.35, -0.42), (0.4, -0.52), (0.45, -0.38), (0.5, -0.45), (0.55, -0.35), (0.63, -0.4), (0.38, -0.3),
    (0.42, -0.2), (0.46, -0.3), (0.5, -0.25), (0.54, -0.15), (0.56, -0.25), (0.44, -0.12), (0.48, -0.08),
    (-0.3, -1.25), (-0.28, -1.1), (-0.29, -0.9), (-0.27, -0.7), (-0.26, -0.4), (-0.26, -0.15), (-0.24, 0.15), (-0.24, 0.5), (-0.22, 0.9), (-0.2, 1.2),
    (-0.21, 1.6), (-0.2, 1.9), (-0.19, 2.2), (-0.2, 2.45), (-0.18, 2.6), (-0.16, 2.95), (-0.12, 3.0), (-0.1, 3.05), (-0.06, 3.2), (0.0, 3.35),
    (0.04, 3.5), (0.03, 3.62), (0.09, 3.7), (0.1, 3.82), (0.08, 3.98), (0.12, 3.95), (0.14, 3.9), (-0.3, 3.98), (-0.02, 3.65), (1.21, 2.15),
    (1.23, 2.3), (1.24, 2.55), (1.25, 2.65), (1.26, 2.9), (1.27, 3.0), (1.25, 3.1), (1.23, 3.2), (1.2, 3.5), (1.18, 3.65), (1.22, 3.8), (1.27, 3.75),
    (1.3, 3.85), (1.33, 3.95), (1.36, 3.9), (1.38, 3.98), (1.3, 3.6), (1.22, 1.9), (1.2, 1.3), (1.17, 1.8),
    # denser field inside the V
    (0.813, -3.71), (0.847, -3.92), (0.869, -3.57), (0.903, -3.77), (0.926, -3.47), (0.951, -3.61), (0.973, -3.86), (0.991, -3.53), (1.013, -3.43), (0.721, -3.63),
    (0.759, -3.81), (0.792, -3.39), (0.834, -3.28), (0.681, -3.72), (0.643, -3.27), (0.597, -3.62), (0.553, -3.27), (0.517, -3.13), (0.487, -3.34), (0.433, -3.27),
    (0.377, -3.14), (0.318, -3.37), (0.252, -3.23), (0.197, -3.17), (0.083, -3.22), (0.024, -3.03), (-0.071, -2.88), (0.113, -2.74), (0.167, -2.71), (0.217, -2.61),
    (0.272, -2.49), (0.337, -2.74), (0.401, -2.63), (0.463, -2.73), (0.523, -2.77), (0.604, -2.63), (0.659, -2.74), (0.706, -2.77), (0.743, -2.66), (0.784, -2.78),
    (0.778, -2.41), (0.731, -2.29), (0.667, -2.32), (0.616, -2.24), (0.571, -2.33), (0.509, -2.28), (0.457, -2.24), (0.416, -2.34), (0.358, -2.27), (0.298, -2.31),
    (0.246, -2.26), (0.194, -2.17), (0.132, -2.2), (0.074, -2.3), (0.041, -2.14), (-0.027, -2.23), (-0.017, -1.79), (0.043, -1.76), (0.092, -1.84), (0.153, -1.78),
    (0.206, -1.82), (0.262, -1.77), (0.318, -1.81), (0.373, -1.78), (0.428, -1.83), (0.489, -1.76), (0.547, -1.83), (0.613, -1.98), (0.668, -2.02), (0.707, -2.1),
    (0.022, -1.59), (0.073, -1.55), (0.124, -1.63), (0.187, -1.51), (0.238, -1.57), (0.292, -1.52), (0.347, -1.59), (0.403, -1.49), (0.462, -1.52), (0.518, -1.55),
    (0.611, -1.47), (0.056, -1.28), (0.097, -1.33), (0.148, -1.24), (0.207, -1.31), (0.262, -1.27), (0.319, -1.31), (0.377, -1.27), (0.438, -1.3), (0.493, -1.36),
    (0.534, -1.3), (0.574, -1.24), (0.618, -1.18), (0.132, -0.97), (0.177, -1.04), (0.238, -1.03), (0.289, -0.93), (0.352, -0.96), (0.407, -0.93), (0.463, -0.91),
    (0.517, -0.93), (0.571, -0.92), (0.632, -0.93), (0.168, -0.76), (0.254, -0.78), (0.311, -0.73), (0.362, -0.76), (0.417, -0.73), (0.469, -0.76), (0.524, -0.71),
    (0.583, -0.71), (0.642, -0.78), (0.244, -0.57), (0.293, -0.6), (0.357, -0.55), (0.412, -0.63), (0.461, -0.58), (0.512, -0.52), (0.572, -0.58), (0.624, -0.56),
    (0.331, -0.42), (0.384, -0.45), (0.428, -0.37), (0.478, -0.38), (0.523, -0.38), (0.578, -0.41), (0.411, -0.3), (0.478, -0.18), (0.532, -0.28), (0.517, -0.1),
]

# box and arrow layout in figure pixels
mock_box = (392, 1001, 1024)
model_box = (1242, 1001, 1873)
mock_text = ['mock CMD of a', 'simulated galaxy']
model_text = ['model CMD with', 'known properties']


def px_axes(fig, left, top, right, bottom):
    return fig.add_axes([left / W, 1 - bottom / H, (right - left) / W, (bottom - top) / H])


def cells_to_dashes(x0, m0, rows, dm=0.05):
    full = []
    thin = []
    for i, row in enumerate(rows):
        for j, c in enumerate(row):
            if c == '#':
                full.append((x0 + j * 0.025, m0 + i * dm))
            elif c == '-':
                thin.append((x0 + j * 0.025, m0 + i * dm))
    return full, thin


def draw_dashes(ax, pts, color, lw=1.8):
    if len(pts) == 0:
        return
    pts = np.array(pts)
    ax.hlines(pts[:, 1], pts[:, 0] - 0.0125, pts[:, 0] + 0.0125, colors=color, lw=lw, zorder=4, capstyle='butt')


def snap(v):
    # histogram columns are 0.025 wide
    return np.round(np.array(v) * 40) / 40


def draw_panel(ax, cax, cols, rows, counts, vmin, vmax, bands, cbar_ticks):
    ax.set_facecolor('white')
    paths = []
    for m, l, r in bands:
        poly = ax.fill_betweenx(m, snap(l), snap(r), color=BLACK, lw=0, zorder=1, step='mid')
        paths.append(poly.get_paths()[0])
    dx = cols[1] - cols[0]
    dm = rows[1] - rows[0]
    im = ax.imshow(counts, cmap='inferno', vmin=vmin, vmax=vmax, aspect='auto', origin='upper',
                   interpolation='bilinear', interpolation_stage='data', zorder=2,
                   extent=[cols[0] - dx / 2, cols[-1] + dx / 2, rows[-1] + dm / 2, rows[0] - dm / 2])
    im.set_clip_path(Path.make_compound_path(*paths), transform=ax.transData)
    ax.set_xlim(-0.5, 2.0)
    ax.set_ylim(4, -4)
    ax.set_xticks(x_ticks)
    ax.set_xticklabels(x_labels)
    ax.set_yticks(y_ticks)
    ax.set_yticklabels(y_labels)
    ax.tick_params(length=3.5, width=0.7, color='#333333', labelsize=28)
    ax.tick_params(axis='x', pad=5)
    ax.tick_params(axis='y', pad=5)
    for s in ax.spines.values():
        s.set_linewidth(0.9)
        s.set_color('#444444')
    ax.set_xlabel('$\\mathrm{V}$-$\\mathrm{I}$', fontsize=33)
    ax.set_ylabel('$\\mathrm{M_I}$', fontsize=33)
    cb = ax.figure.colorbar(im, cax=cax, ticks=cbar_ticks)
    cb.set_ticklabels(['$%d$' % t for t in cbar_ticks])
    cb.outline.set_edgecolor('#555555')
    cb.outline.set_linewidth(0.9)
    cax.tick_params(length=3.5, width=0.7, labelsize=27, pad=2)
    return im


def draw_stars(ax, stars):
    stars = np.array(stars)
    ax.scatter(stars[:, 0], stars[:, 1], s=1.9, c='#707070', marker='s', linewidths=0, zorder=3)


def draw_note(ov, box, lines, start, ctrl1, ctrl2, end, tip):
    left, top, right = box
    ov.add_patch(Rectangle((left, top), right - left, 400, fc='white', ec='black', lw=5.5, joinstyle='round', zorder=2))
    cx = (left + right) / 2
    ov.text(cx, 1069, lines[0], fontsize=53.5, ha='center', va='center', color='black', zorder=3)
    ov.text(cx, 1161, lines[1], fontsize=53.5, ha='center', va='center', color='black', zorder=3)
    curve = Path([start, ctrl1, ctrl2, end], [Path.MOVETO, Path.CURVE4, Path.CURVE4, Path.CURVE4])
    ov.add_patch(PathPatch(curve, fc='none', ec=BLUE, lw=5.4, capstyle='butt', zorder=3))
    head = [tip, (tip[0] - 19, end[1] + 1), (tip[0] + 18, end[1] + 1)]
    ov.add_patch(Polygon(head, closed=True, fc=BLUE, ec='none', zorder=3))


fig = plt.figure(figsize=(W / 100, H / 100), dpi=100, facecolor='white')
ax1 = px_axes(fig, 140, 44, 951, 854)
cax1 = px_axes(fig, 1001, 44, 1041, 854)
ax2 = px_axes(fig, 1257, 34, 2078, 857)
cax2 = px_axes(fig, 2129, 34, 2170, 858)

mock_bands = [(mock_band_m, mock_band_l, mock_band_r), (mock_core_m, mock_core_l, mock_core_r)]
draw_panel(ax1, cax1, mock_col, mock_row, np.array(mock_counts), 4, 170, mock_bands, mock_cbar_ticks)
draw_stars(ax1, mock_stars)
full, thin = cells_to_dashes(0.70, -1.30, mock_rgb_cells)
draw_dashes(ax1, full, BLACK, lw=3.0)
draw_dashes(ax1, thin, BLACK)
draw_dashes(ax1, mock_dashes, BLACK)
draw_dashes(ax1, mock_gaps, 'white', lw=1.4)
ax1.xaxis.labelpad = 8
ax1.yaxis.labelpad = 10

model_bands = [(blade_m, blade_l, blade_r), (mass_m, mass_l, mass_r), (body_m, body_l, body_r)]
draw_panel(ax2, cax2, model_col, model_row, np.array(model_counts) * 100.0, 1, 13300, model_bands, model_cbar_ticks)
draw_stars(ax2, model_stars)
full, thin = cells_to_dashes(1.0, -3.975, model_roof_cells)
draw_dashes(ax2, full, BLACK, lw=3.2)
draw_dashes(ax2, thin, BLACK)
full, thin = cells_to_dashes(0.80, -3.45, model_side_cells)
draw_dashes(ax2, full, BLACK, lw=3.0)
draw_dashes(ax2, thin, BLACK)
draw_dashes(ax2, model_dashes, BLACK)
draw_dashes(ax2, model_gaps, 'white', lw=1.4)
full, thin = cells_to_dashes(0.45, -0.15, model_shelf_cells)
draw_dashes(ax2, full, 'white', lw=2.6)
ax2.xaxis.labelpad = 8
ax2.yaxis.labelpad = 10

ov = fig.add_axes([0, 0, 1, 1], facecolor='none')
ov.set_xlim(0, W)
ov.set_ylim(H, 0)
ov.axis('off')
draw_note(ov, mock_box, mock_text, (389, 1114), (285, 1105), (195, 960), (179, 783), (177, 734))
draw_note(ov, model_box, model_text, (1876, 1115), (1930, 1100), (2010, 900), (2030, 735), (2031, 684))

fig.savefig('out.png', dpi=100)
plt.close()
